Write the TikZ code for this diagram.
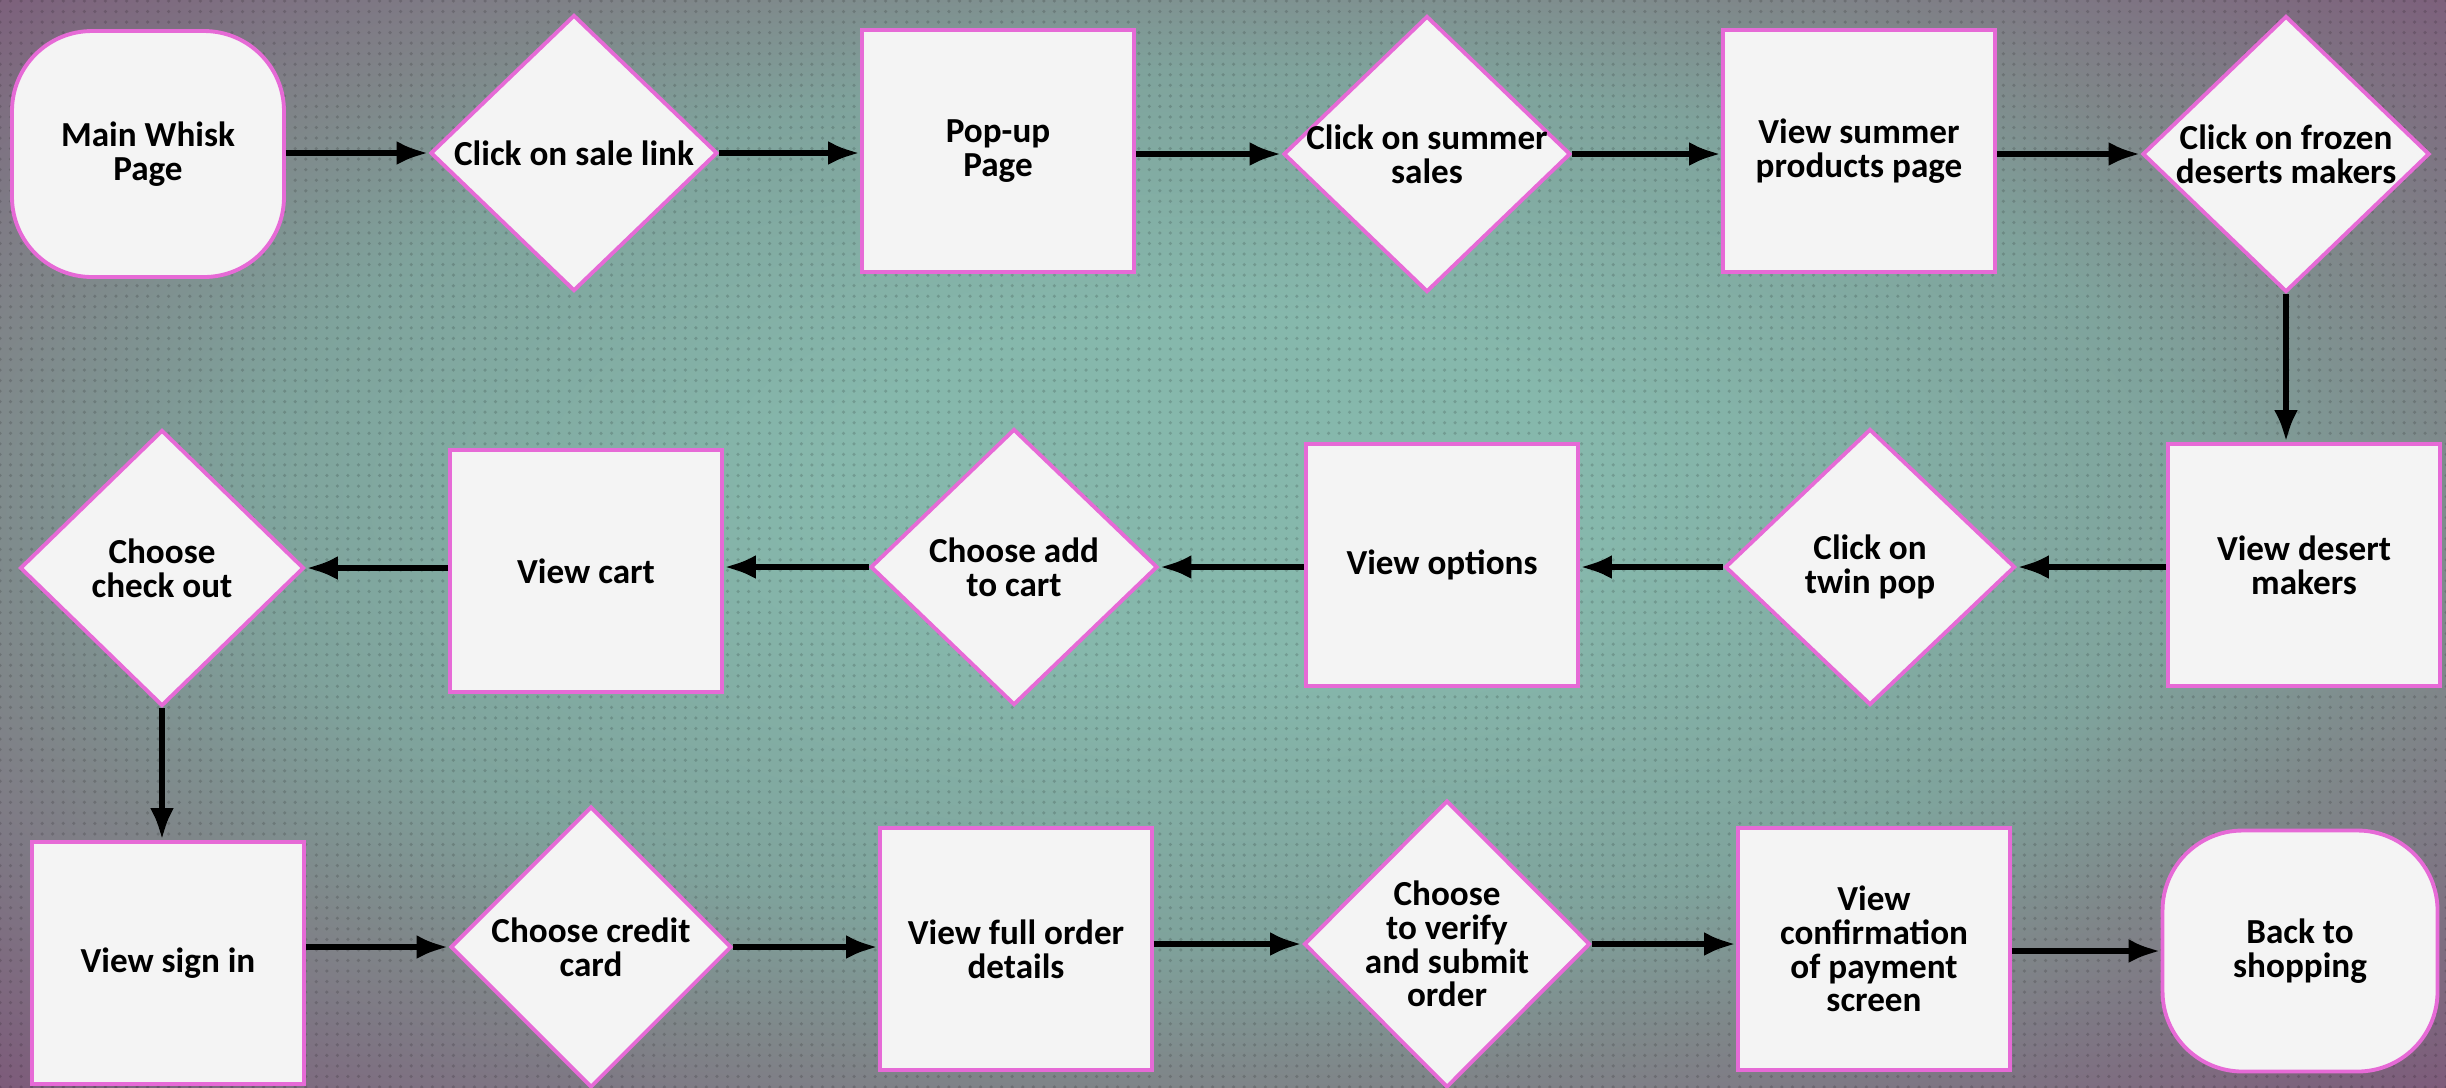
\documentclass[tikz,border=0pt]{standalone}
\usepackage{fontspec}
\setmainfont{Carlito}
\usepackage{tikz}
\usetikzlibrary{arrows.meta,shapes.geometric,patterns}
\definecolor{FlowTeal}{HTML}{86B8AC}
\definecolor{FlowSage}{HTML}{7FA39C}
\definecolor{FlowGrey}{HTML}{7F8689}
\definecolor{FlowMauve}{HTML}{7D5B7A}
\definecolor{FlowPink}{HTML}{E66AD6}
\definecolor{FlowPaper}{HTML}{F4F4F4}
\newcommand{\boxfont}{\bfseries\fontsize{10}{9.6}\selectfont}
\pgfdeclareradialshading{flowglow}{\pgfpoint{0bp}{3bp}}{%
  color(0bp)=(FlowTeal); color(8bp)=(FlowTeal);
  color(20bp)=(FlowSage); color(26bp)=(FlowGrey);
  color(36bp)=(FlowMauve); color(50bp)=(FlowMauve)}

\begin{document}
\begin{tikzpicture}[
    terminal/.style={
      draw=FlowPink,
      fill=FlowPaper,
      rounded corners=8mm,
      line width=1.1pt,
      minimum width=2.72cm,
      minimum height=2.46cm,
      align=center,
      font=\boxfont
    },
    screen/.style={
      draw=FlowPink,
      fill=FlowPaper,
      line width=1.1pt,
      minimum width=2.72cm,
      minimum height=2.42cm,
      align=center,
      font=\boxfont
    },
    decision/.style={
      diamond,
      draw=FlowPink,
      fill=FlowPaper,
      line width=1.1pt,
      inner sep=0pt,
      minimum width=2.87cm,
      minimum height=2.76cm
    },
    every label/.style={align=center, font=\boxfont},
    flow/.style={
      -{Latex[length=3.2mm,width=2.4mm]},
      draw=black,
      line width=1.8pt
    }
  ]
    \useasboundingbox (0,0) rectangle (24.46,-10.87);
    \shade[shading=flowglow] (0,0) rectangle (24.46,-10.87);
    \fill[pattern=dots, pattern color=black, opacity=0.15] (0,0) rectangle (24.46,-10.87);

    % first row
    \node[terminal] (mainpage) at (1.48,-1.54) {Main Whisk\\Page};
    \node[decision, label={center:Click on sale link}] (salelink) at (5.74,-1.53) {};
    \node[screen] (popup) at (9.98,-1.51) {Pop-up\\Page};
    \node[decision, label={center:Click on summer\\sales}] (summer) at (14.27,-1.54) {};
    \node[screen] (products) at (18.59,-1.51) {View summer\\products page};
    \node[decision, label={center:Click on frozen\\deserts makers}] (frozen) at (22.86,-1.54) {};

    % second row
    \node[screen] (makers) at (23.04,-5.65) {View desert\\makers};
    \node[decision, minimum width=2.9cm, label={center:Click on\\twin pop}] (twinpop) at (18.70,-5.67) {};
    \node[screen] (options) at (14.42,-5.65) {View options};
    \node[decision, label={center:Choose add\\to cart}] (addcart) at (10.14,-5.67) {};
    \node[screen] (cart) at (5.86,-5.71) {View cart};
    \node[decision, minimum width=2.84cm, label={center:Choose\\check out}] (checkout) at (1.62,-5.68) {};

    % third row
    \node[screen] (signin) at (1.68,-9.63) {View sign in};
    \node[decision, minimum width=2.81cm, minimum height=2.81cm, label={center:Choose credit\\card}] (credit) at (5.91,-9.47) {};
    \node[screen] (details) at (10.16,-9.49) {View full order\\details};
    \node[decision, minimum width=2.86cm, minimum height=2.87cm, label={center:Choose\\to verify\\and submit\\order}] (verify) at (14.47,-9.44) {};
    \node[screen] (confirm) at (18.74,-9.49) {View\\confirmation\\of payment\\screen};
    \node[terminal, minimum width=2.75cm, minimum height=2.41cm] (backshop) at (23.00,-9.51) {Back to\\shopping};

    \draw[flow] (mainpage.east |- salelink.west) -- (salelink.west);
    \draw[flow] (salelink.east) -- (salelink.east -| popup.west);
    \draw[flow] (popup.east |- summer.west) -- (summer.west);
    \draw[flow] (summer.east) -- (summer.east -| products.west);
    \draw[flow] (products.east |- frozen.west) -- (frozen.west);
    \draw[flow] (frozen.south) -- (frozen.south |- makers.north);

    \draw[flow] (makers.west |- twinpop.east) -- (twinpop.east);
    \draw[flow] (twinpop.west) -- (twinpop.west -| options.east);
    \draw[flow] (options.west |- addcart.east) -- (addcart.east);
    \draw[flow] (addcart.west) -- (addcart.west -| cart.east);
    \draw[flow] (cart.west |- checkout.east) -- (checkout.east);
    \draw[flow] (checkout.south) -- (checkout.south |- signin.north);

    \draw[flow] (signin.east |- credit.west) -- (credit.west);
    \draw[flow] (credit.east) -- (credit.east -| details.west);
    \draw[flow] (details.east |- verify.west) -- (verify.west);
    \draw[flow] (verify.east) -- (verify.east -| confirm.west);
    \draw[flow] (confirm.east |- backshop.west) -- (backshop.west);
  \end{tikzpicture}
\end{document}
